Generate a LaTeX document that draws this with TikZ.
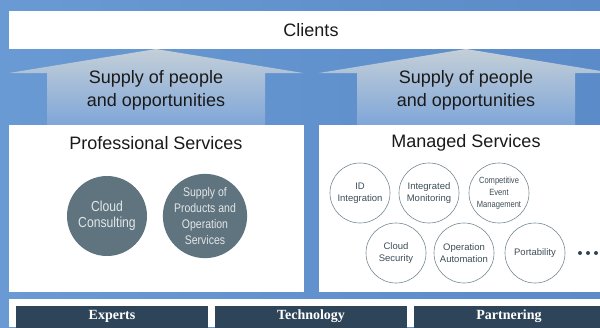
\documentclass[tikz,border=0pt]{standalone}
\usepackage{fontspec}
\setmainfont{Liberation Sans}
\newfontfamily\condfont[FakeStretch=0.84]{Liberation Sans}
\newfontfamily\pillarfont{Liberation Serif}
\usetikzlibrary{positioning,calc}
\definecolor{ink}{HTML}{1A1A1A}
\definecolor{bgleft}{HTML}{6A9AD3}
\definecolor{bgright}{HTML}{5B8BC8}
\definecolor{slate}{HTML}{5F747F}
\definecolor{slatetext}{HTML}{3E4E58}
\definecolor{navy}{HTML}{2E4559}
\definecolor{arrowtop}{HTML}{C4CFD8}
\definecolor{arrowbot}{HTML}{7FA6D8}
\tikzset{
  panel/.style={fill=white, draw=none},
  heading/.style={font=\fontsize{18}{21}\selectfont, text=ink, inner sep=1pt},
  supply/.style={font=\fontsize{18}{23}\selectfont, text=ink, align=center, inner sep=1pt},
  solidsvc/.style={circle, fill=slate, minimum size=80pt, inner sep=0pt, text=white!82!slate, align=center},
  ringsvc/.style={circle, draw=slate!85, line width=0.6pt, fill=white, minimum size=60pt, inner sep=0pt, text=slatetext, align=center, font=\fontsize{9.5}{12}\selectfont},
  pillar/.style={fill=navy, text=white, font=\pillarfont\bfseries\fontsize{14}{16}\selectfont, inner sep=0pt},
}
\def\msRings{360/193/idint/{ID\\Integration}, 429/193/intmon/{Integrated\\Monitoring}, 396/253/cldsec/{Cloud\\Security}, 464/253/opauto/{Operation\\Automation}, 535/253/port/{Portability}}
\def\msPillars{16/208/experts/Experts, 215/407/tech/Technology, 414/604/partner/Partnering}

\begin{document}
\begin{tikzpicture}[x=1pt, y=-1pt]
  \clip (0,0) rectangle (600,327);
  \shade[left color=bgleft, right color=bgright] (0,0) rectangle (600,327);
  % clients bar
  \fill[panel] (9,11) rectangle (600,49);
  \node[heading] (clients) at (311,30) {Clients};
  % supply arrows
  \foreach \cx/\nm in {156/ps, 466/ms} {
    \shade[top color=arrowtop, middle color=arrowtop!80!arrowbot, bottom color=arrowbot]
      (\cx,49) -- (\cx+147,73) -- (\cx+109,73) -- (\cx+109,125) -- (\cx-109,125)
      -- (\cx-109,73) -- (\cx-147,73) -- cycle;
    \node[supply] (supply-\nm) at (\cx,90.5) {Supply of people\\and opportunities};
  }
  % service panels
  \fill[panel] (9,125) rectangle (304,292);
  \fill[panel] (319,125) rectangle (600,292);
  \node[heading] (pstitle) at (156,143) {Professional Services};
  \node[heading] (mstitle) at (466,143) {Managed Services};
  \node[solidsvc, font=\condfont\fontsize{14.5}{16}\selectfont] (cloudcons) at (107,216) {Cloud\\Consulting};
  \node[solidsvc, font=\condfont\fontsize{12.5}{16}\selectfont] (supplyops) at (205,216) {Supply of\\Products and\\Operation\\Services};
  \foreach \x/\y/\nm/\txt in \msRings
    \node[ringsvc] (\nm) at (\x,\y) {\txt};
  \node[ringsvc, font=\condfont\fontsize{9}{11.7}\selectfont] (compevt) at (499,193) {Competitive\\Event\\Management};
  \foreach \k in {0,1,2}
    \fill[navy] (580+\k*8,253) circle (2);
  % pillars
  \fill[panel] (9,299) rectangle (600,327);
  \foreach \xa/\xb/\nm/\txt in \msPillars {
    \fill[pillar] (\xa,306) rectangle (\xb,330);
    \node[pillar] (\nm) at ({(\xa+\xb)/2},316.5) {\txt};
  }
\end{tikzpicture}
\end{document}
